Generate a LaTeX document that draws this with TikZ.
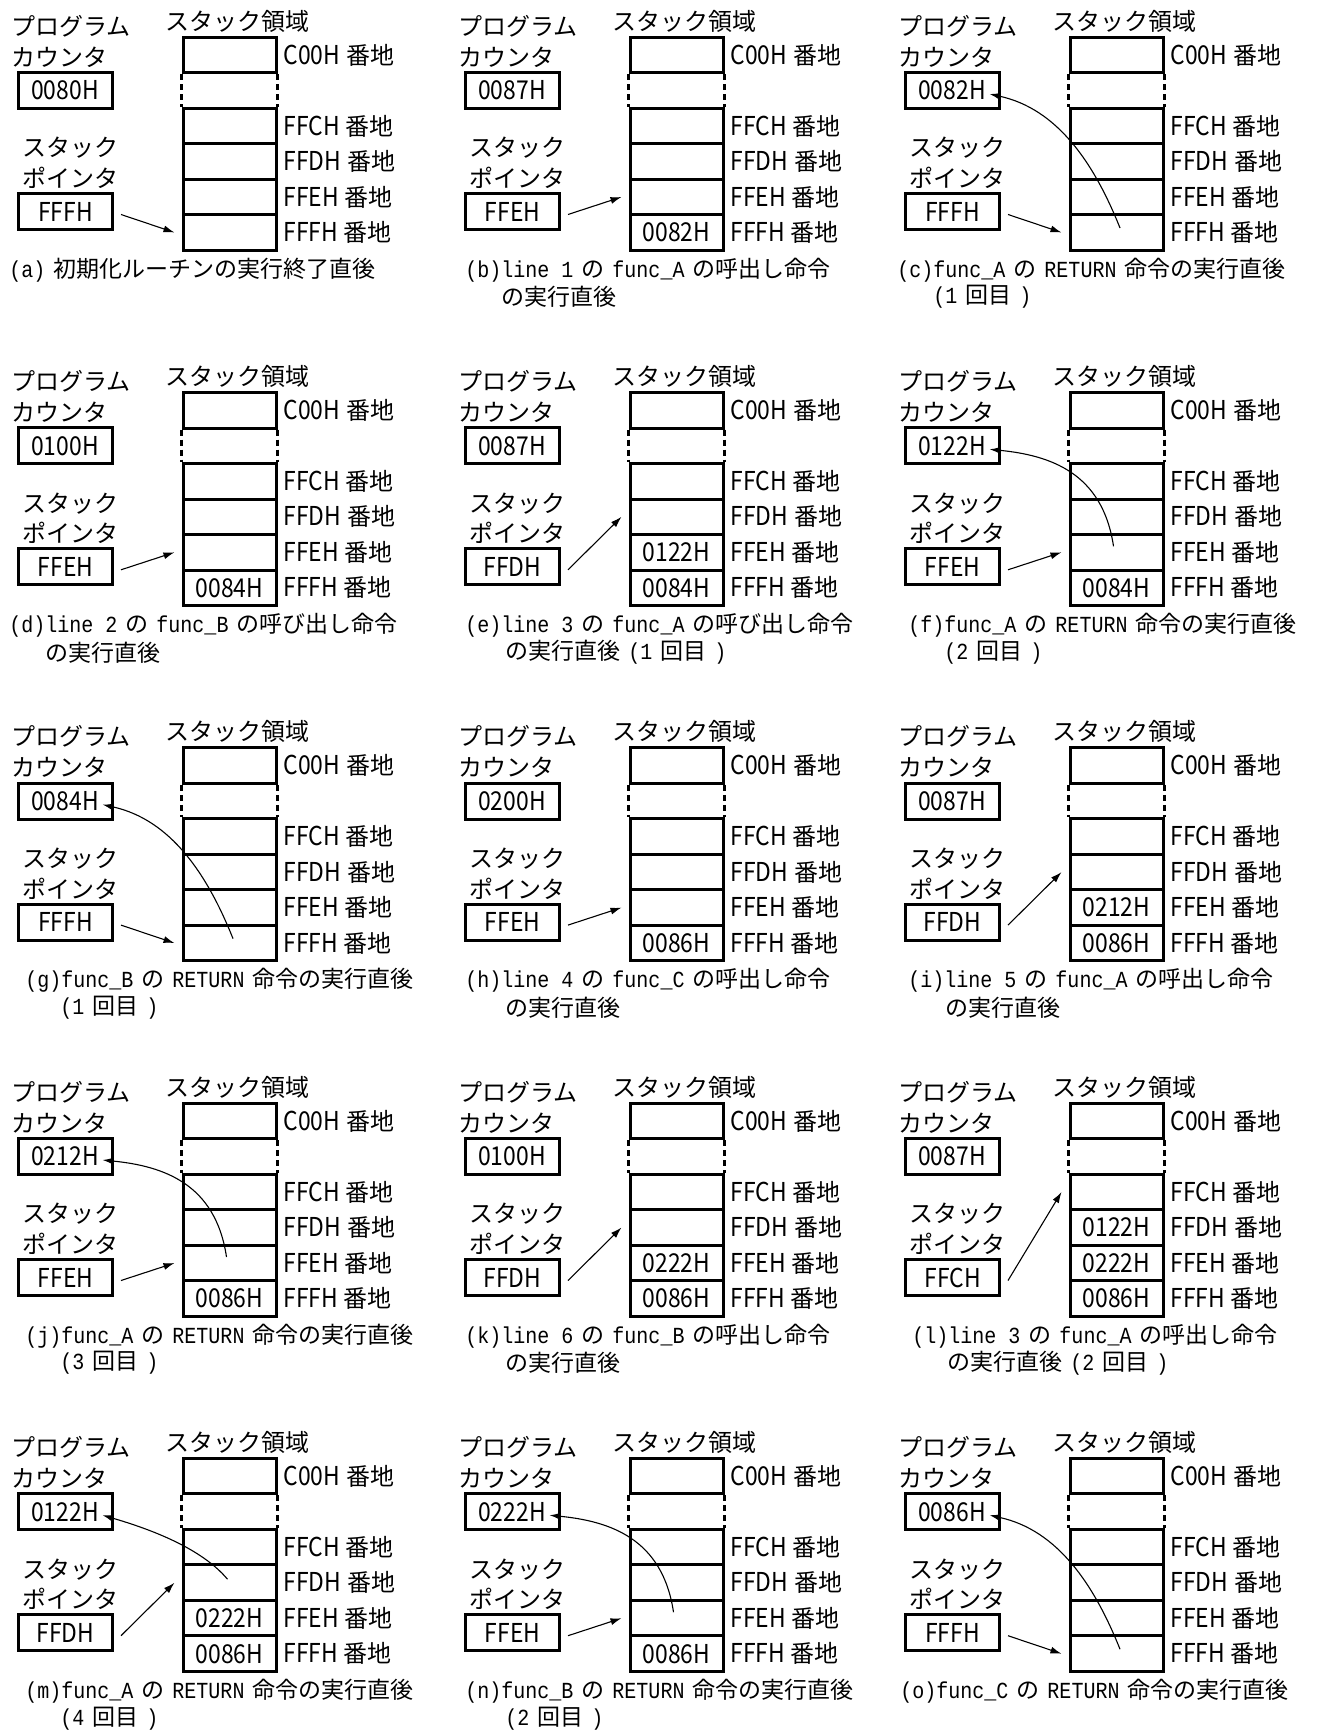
\documentclass[tikz,border=0pt]{standalone}
\usepackage{fontspec}
\usepackage{graphicx}
\setmainfont{Noto Sans CJK JP}
\newfontfamily\monofnt{Liberation Mono}
\usetikzlibrary{arrows.meta,calc}

\newcommand\hw[1]{{\fontsize{13pt}{15pt}\selectfont\scalebox{0.88}[1]{#1}}}
\newcommand\M[1]{{\monofnt\fontsize{11.5pt}{13pt}\selectfont\scalebox{0.87}[1]{#1}}}
\newcommand\J[1]{{\fontsize{11.5pt}{13pt}\selectfont #1}}
\newcommand\s{\hspace{4pt}}

\tikzset{
 lbl/.style={anchor=west, inner sep=0pt, font=\fontsize{12pt}{14pt}\selectfont},
 reg/.style={draw, line width=1.5pt, minimum width=47pt, minimum height=18pt, inner sep=0pt},
 cell/.style={draw, line width=1.5pt, minimum width=46.5pt, minimum height=17.75pt, inner sep=0pt},
 addr/.style={anchor=west, inner sep=0pt, font=\fontsize{12pt}{14pt}\selectfont},
 gapline/.style={line width=1.5pt, dash pattern=on 3pt off 2pt},
 ptr/.style={line width=0.55pt, -{Latex[length=5.5pt,width=3.5pt]}},
 captxt/.style={anchor=west, inner sep=0pt},
}

\newcommand\Frame[7]{%
 \node[lbl] (#1pl1) at (11,26) {プログラム};
 \node[lbl] (#1pl2) at (11,57) {カウンタ};
 \node[reg] (#1pc) at (65,90.5) {\hw{#2}};
 \node[lbl] (#1sl1) at (22,148) {スタック};
 \node[lbl] (#1sl2) at (22,178) {ポインタ};
 \node[reg] (#1sp) at (65.5,211.5) {\hw{#3}};
 \node[lbl] (#1title) at (165,21) {スタック領域};
 \node[cell] (#1r0) at (229.5,55) {};
 \node[cell] (#1r1) at (229.5,126) {\hw{#4}};
 \node[cell] (#1r2) at (229.5,161.5) {\hw{#5}};
 \node[cell] (#1r3) at (229.5,197) {\hw{#6}};
 \node[cell] (#1r4) at (229.5,232.5) {\hw{#7}};
 \draw[gapline] (#1r0.south west) -- (#1r1.north west);
 \draw[gapline] (#1r0.south east) -- (#1r1.north east);
 \node[addr] (#1a0) at (283,55) {\hw{C00H}\hspace{3pt}番地};
 \node[addr] (#1a1) at (283,126) {\hw{FFCH}\hspace{3pt}番地};
 \node[addr] (#1a2) at (283,161.5) {\hw{FFDH}\hspace{3pt}番地};
 \node[addr] (#1a3) at (283,197) {\hw{FFEH}\hspace{3pt}番地};
 \node[addr] (#1a4) at (283,232.5) {\hw{FFFH}\hspace{3pt}番地};
}
\newcommand\SP[2]{\draw[ptr] ([xshift=3.5pt,yshift=-1.5pt]#1sp.east) -- ([xshift=-3.5pt]#1#2.west);}
\newcommand\RetD[1]{\draw[ptr] ($(#1r4.center)+(3.5,-4.5)$) .. controls +(-26,-65) and +(68,15) .. ([xshift=-5.5pt,yshift=-1.75pt]#1pc.east);}
\newcommand\RetE[1]{\draw[ptr] ($(#1r3.center)+(-3,-6)$) .. controls +(-11,-74) and +(60,6) .. ([xshift=-5.5pt,yshift=-1.75pt]#1pc.east);}
\newcommand\RetF[1]{\draw[ptr] ($(#1r2.center)+(-2,-3.5)$) .. controls +(-26,-31) and +(48,14) .. ([xshift=-5.5pt,yshift=-1.75pt]#1pc.east);}

\begin{document}
\begin{tikzpicture}[x=0.5pt,y=-0.5pt]
\path[use as bounding box, fill=white] (0,0) rectangle (1328,1732);

% row 1
\begin{scope}[shift={(0,0)}]
\Frame{a}{0080H}{FFFH}{}{}{}{}
\SP{a}{r4}
\node[captxt] (acap1) at (9,270) {\M{(a)}\s\J{初期化ルーチンの実行終了直後}};
\end{scope}
\begin{scope}[shift={(447,0)}]
\Frame{b}{0087H}{FFEH}{}{}{}{0082H}
\SP{b}{r3}
\node[captxt] (bcap1) at (18,270) {\M{(b)line 1}\s\J{の}\s\M{func\_A}\s\J{の呼出し命令}};
\node[captxt] (bcap2) at (54,297) {\J{の実行直後}};
\end{scope}
\begin{scope}[shift={(887,0)}]
\Frame{c}{0082H}{FFFH}{}{}{}{}
\SP{c}{r4}
\RetD{c}
\node[captxt] (ccap1) at (10,270) {\M{(c)func\_A}\s\J{の}\s\M{RETURN}\s\J{命令の実行直後}};
\node[captxt] (ccap2) at (46,297) {\M{(1}\s\J{回目}\s\M{)}};
\end{scope}

% row 2
\begin{scope}[shift={(0,355.3)}]
\Frame{d}{0100H}{FFEH}{}{}{}{0084H}
\SP{d}{r3}
\node[captxt] (dcap1) at (9,270) {\M{(d)line 2}\s\J{の}\s\M{func\_B}\s\J{の呼び出し命令}};
\node[captxt] (dcap2) at (45,297) {\J{の実行直後}};
\end{scope}
\begin{scope}[shift={(447,355.3)}]
\Frame{e}{0087H}{FFDH}{}{}{0122H}{0084H}
\SP{e}{r2}
\node[captxt] (ecap1) at (18,270) {\M{(e)line 3}\s\J{の}\s\M{func\_A}\s\J{の呼び出し命令}};
\node[captxt] (ecap2) at (58,297) {\J{の実行直後}\s\M{(1}\s\J{回目}\s\M{)}};
\end{scope}
\begin{scope}[shift={(887,355.3)}]
\Frame{f}{0122H}{FFEH}{}{}{}{0084H}
\SP{f}{r3}
\RetE{f}
\node[captxt] (fcap1) at (21,270) {\M{(f)func\_A}\s\J{の}\s\M{RETURN}\s\J{命令の実行直後}};
\node[captxt] (fcap2) at (57,297) {\M{(2}\s\J{回目}\s\M{)}};
\end{scope}

% row 3
\begin{scope}[shift={(0,710.6)}]
\Frame{g}{0084H}{FFFH}{}{}{}{}
\SP{g}{r4}
\RetD{g}
\node[captxt] (gcap1) at (25,270) {\M{(g)func\_B}\s\J{の}\s\M{RETURN}\s\J{命令の実行直後}};
\node[captxt] (gcap2) at (60,297) {\M{(1}\s\J{回目}\s\M{)}};
\end{scope}
\begin{scope}[shift={(447,710.6)}]
\Frame{h}{0200H}{FFEH}{}{}{}{0086H}
\SP{h}{r3}
\node[captxt] (hcap1) at (18,270) {\M{(h)line 4}\s\J{の}\s\M{func\_C}\s\J{の呼出し命令}};
\node[captxt] (hcap2) at (58,297) {\J{の実行直後}};
\end{scope}
\begin{scope}[shift={(887,710.6)}]
\Frame{i}{0087H}{FFDH}{}{}{0212H}{0086H}
\SP{i}{r2}
\node[captxt] (icap1) at (21,270) {\M{(i)line 5}\s\J{の}\s\M{func\_A}\s\J{の呼出し命令}};
\node[captxt] (icap2) at (58,297) {\J{の実行直後}};
\end{scope}

% row 4
\begin{scope}[shift={(0,1066)}]
\Frame{j}{0212H}{FFEH}{}{}{}{0086H}
\SP{j}{r3}
\RetE{j}
\node[captxt] (jcap1) at (25,270) {\M{(j)func\_A}\s\J{の}\s\M{RETURN}\s\J{命令の実行直後}};
\node[captxt] (jcap2) at (60,297) {\M{(3}\s\J{回目}\s\M{)}};
\end{scope}
\begin{scope}[shift={(447,1066)}]
\Frame{k}{0100H}{FFDH}{}{}{0222H}{0086H}
\SP{k}{r2}
\node[captxt] (kcap1) at (18,270) {\M{(k)line 6}\s\J{の}\s\M{func\_B}\s\J{の呼出し命令}};
\node[captxt] (kcap2) at (58,297) {\J{の実行直後}};
\end{scope}
\begin{scope}[shift={(887,1066)}]
\Frame{l}{0087H}{FFCH}{}{0122H}{0222H}{0086H}
\SP{l}{r1}
\node[captxt] (lcap1) at (25,270) {\M{(l)line 3}\s\J{の}\s\M{func\_A}\s\J{の呼出し命令}};
\node[captxt] (lcap2) at (60,297) {\J{の実行直後}\s\M{(2}\s\J{回目}\s\M{)}};
\end{scope}

% row 5
\begin{scope}[shift={(0,1421.2)}]
\Frame{m}{0122H}{FFDH}{}{}{0222H}{0086H}
\SP{m}{r2}
\RetF{m}
\node[captxt] (mcap1) at (25,270) {\M{(m)func\_A}\s\J{の}\s\M{RETURN}\s\J{命令の実行直後}};
\node[captxt] (mcap2) at (60,297) {\M{(4}\s\J{回目}\s\M{)}};
\end{scope}
\begin{scope}[shift={(447,1421.2)}]
\Frame{n}{0222H}{FFEH}{}{}{}{0086H}
\SP{n}{r3}
\RetE{n}
\node[captxt] (ncap1) at (18,270) {\M{(n)func\_B}\s\J{の}\s\M{RETURN}\s\J{命令の実行直後}};
\node[captxt] (ncap2) at (58,297) {\M{(2}\s\J{回目}\s\M{)}};
\end{scope}
\begin{scope}[shift={(887,1421.2)}]
\Frame{o}{0086H}{FFFH}{}{}{}{}
\SP{o}{r4}
\RetD{o}
\node[captxt] (ocap1) at (13,270) {\M{(o)func\_C}\s\J{の}\s\M{RETURN}\s\J{命令の実行直後}};
\end{scope}
\end{tikzpicture}
\end{document}
